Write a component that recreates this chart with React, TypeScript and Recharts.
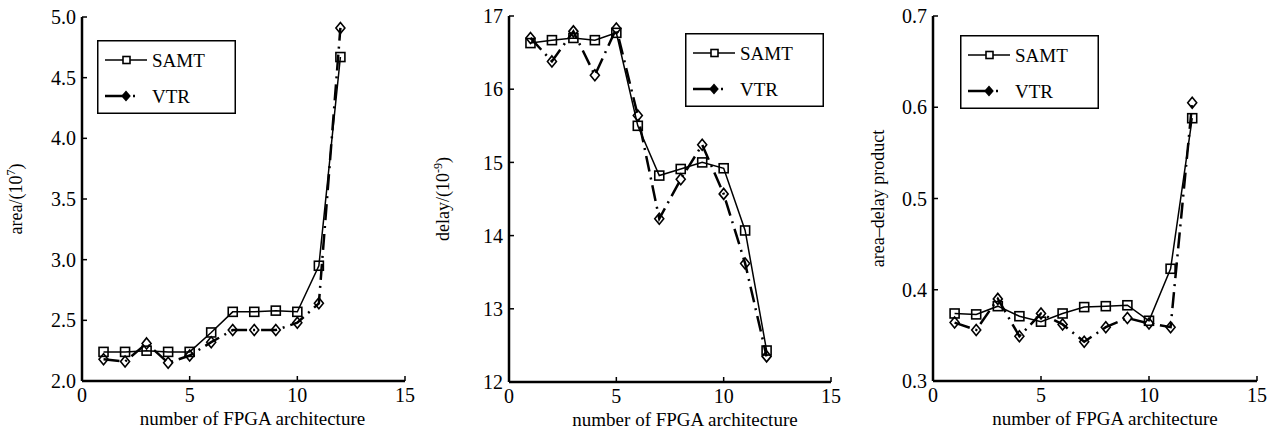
import React from 'react'
import { LineChart, Line, XAxis, YAxis, Legend } from 'recharts'

// architecture index 1..12
const archNo = [1, 2, 3, 4, 5, 6, 7, 8, 9, 10, 11, 12]

const areaSAMT = [2.24, 2.24, 2.25, 2.24, 2.24, 2.4, 2.57, 2.57, 2.58, 2.57, 2.95, 4.67]
const areaVTR = [2.18, 2.16, 2.31, 2.15, 2.21, 2.32, 2.42, 2.42, 2.42, 2.48, 2.64, 4.91]

const delaySAMT = [16.63, 16.67, 16.7, 16.67, 16.77, 15.5, 14.82, 14.91, 15.0, 14.92, 14.07, 12.43]
const delayVTR = [16.7, 16.38, 16.79, 16.19, 16.83, 15.64, 14.23, 14.77, 15.24, 14.57, 13.62, 12.35]

const adpSAMT = [0.374, 0.373, 0.382, 0.371, 0.365, 0.374, 0.381, 0.382, 0.383, 0.366, 0.423, 0.588]
const adpVTR = [0.364, 0.356, 0.39, 0.349, 0.374, 0.362, 0.343, 0.359, 0.369, 0.363, 0.359, 0.605]

const xTicks = [0, 5, 10, 15]
const areaTicks = [2.0, 2.5, 3.0, 3.5, 4.0, 4.5, 5.0]
const delayTicks = [12, 13, 14, 15, 16, 17]
const adpTicks = [0.3, 0.4, 0.5, 0.6, 0.7]

const FONT = "'Liberation Serif', 'DejaVu Serif', serif"
const axisLineStyle = { stroke: '#000', strokeWidth: 2.5 }
const tickLineStyle = { stroke: '#000', strokeWidth: 1.5 }
const tickText = { fill: '#000', fontSize: 20, style: { fontFamily: FONT } }
const VTR_DASH = '16 6 2 6'

const makeRows = (samt: number[], vtr: number[]) =>
  archNo.map((n, i) => ({ n, samt: samt[i], vtr: vtr[i] }))

function SquareDot(props: any) {
  const { cx, cy, index } = props
  if (cx == null || cy == null) return <g key={`s${index}`} />
  return (
    <rect key={`s${index}`} x={cx - 4.5} y={cy - 4.5} width={9} height={9}
      fill="none" stroke="#000" strokeWidth={1.6} />
  )
}

function DiamondDot(props: any) {
  const { cx, cy, index } = props
  if (cx == null || cy == null) return <g key={`d${index}`} />
  return (
    <path key={`d${index}`} d={`M${cx},${cy - 5.5}L${cx + 4.5},${cy}L${cx},${cy + 5.5}L${cx - 4.5},${cy}Z`}
      fill="none" stroke="#000" strokeWidth={1.6} />
  )
}

function LegendBox({ payload }: any) {
  const items = payload ?? []
  return (
    <svg width={139} height={74} style={{ display: 'block', fontFamily: FONT }}>
      <rect x={0.75} y={0.75} width={137.5} height={72.5} fill="#fff" stroke="#000" strokeWidth={1.5} />
      {items.map((it: any, i: number) => {
        const y = 20 + i * 36
        const sq = it.value === 'SAMT'
        return (
          <g key={it.value}>
            <line x1={8} x2={50} y1={y} y2={y} stroke="#000"
              strokeWidth={sq ? 1.5 : 2.5} strokeDasharray={sq ? undefined : '21 7 2 20'} />
            {sq
              ? <rect x={26} y={y - 3.5} width={7} height={7} fill="#fff" stroke="#000" strokeWidth={1.6} />
              : <path d={`M29,${y - 4.5}L33,${y}L29,${y + 4.5}L25,${y}Z`} fill="#000" stroke="#000" strokeWidth={1.2} />}
            <text x={55} y={y + 6.5} fontSize={19} style={{ fontFamily: FONT }} fill="#000">{it.value}</text>
          </g>
        )
      })}
    </svg>
  )
}

type PanelProps = {
  left: number
  width: number
  margin: { top: number; right: number; bottom: number; left: number }
  rows: { n: number; samt: number; vtr: number }[]
  yDomain: [number, number]
  yTicks: number[]
  fmt: (v: number) => string
  yLabel: React.ReactNode
  labelGap: number
  titleDx: number
  legendPos: { left: number; top: number }
}

function Panel(p: PanelProps) {
  return (
    <div style={{ position: 'absolute', left: p.left, top: 0 }}>
      <LineChart width={p.width} height={432} data={p.rows} margin={p.margin} style={{ fontFamily: FONT }}>
        <XAxis dataKey="n" type="number" domain={[0, 15]} ticks={xTicks} allowDataOverflow
          height={40} tickSize={-5} tickMargin={12} tick={tickText}
          tickLine={tickLineStyle} axisLine={axisLineStyle}
          label={{
            content: ({ viewBox }: any) => (
              <text x={viewBox.x + viewBox.width / 2 + p.titleDx} y={viewBox.y + 44}
                textAnchor="middle" fontSize={19} style={{ fontFamily: FONT }} fill="#000">
                number of FPGA architecture
              </text>
            ),
          }} />
        <XAxis xAxisId="top" orientation="top" dataKey="n" type="number" domain={[0, 15]} ticks={xTicks}
          allowDataOverflow height={0} tickSize={-5} tick={false}
          tickLine={tickLineStyle} axisLine={axisLineStyle} />
        <YAxis type="number" domain={p.yDomain} ticks={p.yTicks} allowDataOverflow width={60}
          tickSize={-5} tickMargin={11} tick={tickText} tickFormatter={p.fmt}
          tickLine={tickLineStyle} axisLine={axisLineStyle}
          label={{
            content: ({ viewBox }: any) => {
              const cx = viewBox.x + viewBox.width - p.labelGap
              const cy = viewBox.y + viewBox.height / 2
              return (
                <text x={cx} y={cy} transform={`rotate(-90 ${cx} ${cy})`} textAnchor="middle"
                  fontSize={18} style={{ fontFamily: FONT }} fill="#000">
                  {p.yLabel}
                </text>
              )
            },
          }} />
        <YAxis yAxisId="right" orientation="right" type="number" domain={p.yDomain} ticks={p.yTicks}
          allowDataOverflow width={0} tickSize={-5} tick={false}
          tickLine={tickLineStyle} axisLine={axisLineStyle} />
        <Legend layout="vertical" align="center" verticalAlign="middle"
          wrapperStyle={{ left: p.legendPos.left, top: p.legendPos.top, width: 139, height: 74 }}
          content={(props: any) => <LegendBox payload={props.payload} />} />
        <Line type="linear" dataKey="samt" name="SAMT" stroke="#000" strokeWidth={1.5}
          dot={SquareDot} activeDot={false} isAnimationActive={false} />
        <Line type="linear" dataKey="vtr" name="VTR" stroke="#000" strokeWidth={2.5}
          strokeDasharray={VTR_DASH} dot={DiamondDot} activeDot={false} isAnimationActive={false} />
      </LineChart>
    </div>
  )
}

export default function App() {
  return (
    <div style={{ position: 'absolute', left: 0, top: 0, width: 1277, height: 432, background: '#fff', fontFamily: FONT }}>
      <Panel left={0} width={420} margin={{ top: 17, right: 15, bottom: 11, left: 22 }}
        rows={makeRows(areaSAMT, areaVTR)} yDomain={[2, 5]} yTicks={areaTicks} fmt={(v) => v.toFixed(1)}
        yLabel={<>area/(10<tspan dy={-7} fontSize={12}>7</tspan><tspan dy={7}>)</tspan></>}
        labelGap={60} titleDx={9} legendPos={{ left: 97, top: 40 }} />
      <Panel left={420} width={430} margin={{ top: 16, right: 19, bottom: 10, left: 29 }}
        rows={makeRows(delaySAMT, delayVTR)} yDomain={[12, 17]} yTicks={delayTicks} fmt={(v) => String(v)}
        yLabel={<>delay/(10<tspan dy={-7} fontSize={12}>-9</tspan><tspan dy={7}>)</tspan></>}
        labelGap={60} titleDx={15} legendPos={{ left: 265, top: 33 }} />
      <Panel left={850} width={427} margin={{ top: 16, right: 20, bottom: 11, left: 23 }}
        rows={makeRows(adpSAMT, adpVTR)} yDomain={[0.3, 0.7]} yTicks={adpTicks} fmt={(v) => v.toFixed(1)}
        yLabel={<>area–delay product</>}
        labelGap={49} titleDx={10} legendPos={{ left: 110, top: 35 }} />
    </div>
  )
}
